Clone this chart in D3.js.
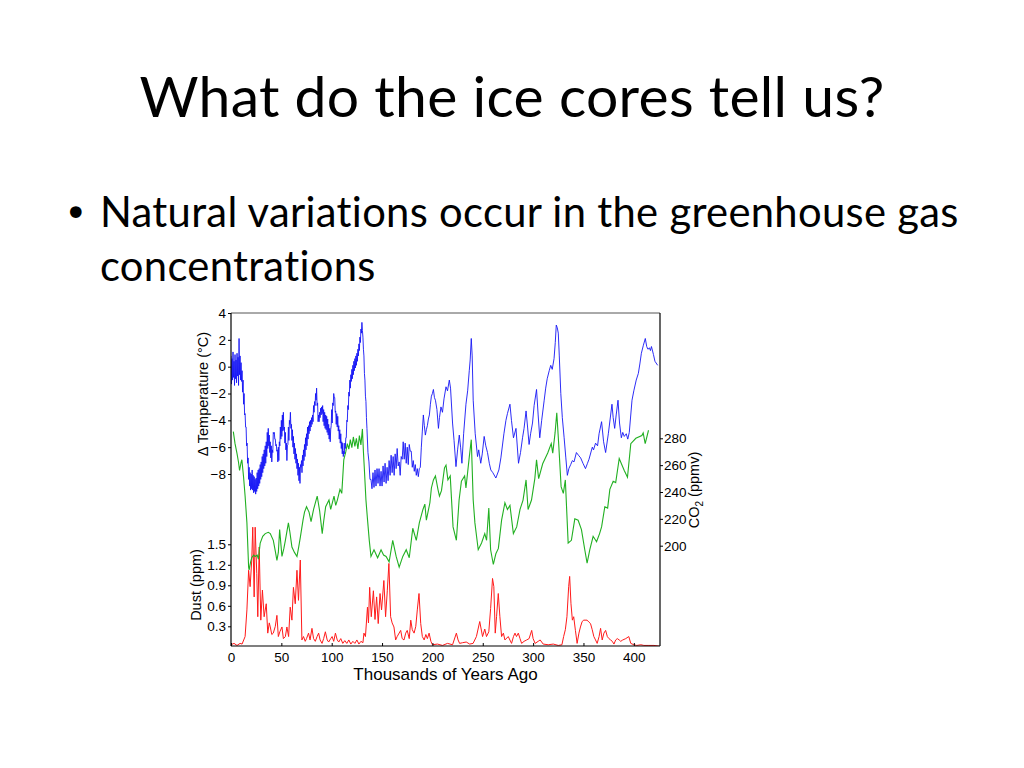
<!DOCTYPE html>
<html><head><meta charset="utf-8">
<script src="https://cdn.jsdelivr.net/npm/d3@7"></script>
<style>body{margin:0;background:#fff}svg{display:block}text{font-variant-ligatures:none;font-feature-settings:"liga" 0,"clig" 0}</style>
</head><body>
<svg id="c" width="1024" height="768"></svg>
<script>
// ---------- text ----------
const titleText = "What do the ice cores tell us?";
const bulletLines = ["Natural variations occur in the greenhouse gas", "concentrations"];
const xLabel = "Thousands of Years Ago";
const tempLabel = "\u0394 Temperature (\u00B0C)";
const dustLabel = "Dust (ppm)";

// ---------- ticks ----------
const xTicks = [0, 50, 100, 150, 200, 250, 300, 350, 400];
const tempTicks = [-8, -6, -4, -2, 0, 2, 4];
const co2Ticks = [200, 220, 240, 260, 280];
const dustTicks = [0.3, 0.6, 0.9, 1.2, 1.5];

// ---------- temperature (deg C) ----------
// high resolution part: ages start at 0 ka, every 0.5 ka
const tempAStart = 0, tempAStep = 0.5;
const tempA = [
  0.8,-1.3,0.6,-1.0,1.1,-0.8,0.4,-1.4,0.9,-0.9,
  0.5,-1.2,1.0,-0.7,0.7,-1.4,2.1,-0.6,0.8,-1.0,
  0.3,-1.1,-0.3,-1.9,-1.0,-2.8,-2.0,-3.6,-3.5,-4.5,
  -4.5,-5.9,-5.7,-7.2,-6.8,-8.4,-7.5,-8.9,-7.9,-9.2,
  -8.0,-9.1,-7.7,-9.2,-8.1,-9.4,-8.2,-9.3,-8.4,-9.5,
  -8.3,-9.3,-7.9,-9.1,-7.7,-8.9,-7.6,-8.7,-7.3,-8.4,
  -7.1,-8.2,-6.7,-7.9,-6.5,-7.6,-6.2,-7.4,-5.9,-7.2,
  -5.6,-6.7,-4.9,-6.1,-4.6,-5.9,-5.1,-6.4,-5.6,-6.8,
  -5.9,-7.1,-6.2,-6.4,-4.9,-5.0,-4.9,-5.4,-5.4,-5.9,
  -5.8,-6.3,-6.2,-7.1,-6.0,-7.0,-5.6,-5.9,-4.5,-5.4,
  -4.0,-5.2,-3.6,-4.8,-3.4,-4.7,-4.5,-5.7,-4.9,-6.2,
  -5.7,-7.0,-5.9,-5.8,-4.5,-5.5,-4.0,-4.3,-3.4,-4.6,
  -4.3,-5.5,-4.7,-6.0,-5.2,-6.5,-5.7,-6.9,-6.1,-7.2,
  -6.5,-7.6,-6.9,-8.1,-7.2,-8.5,-7.5,-8.7,-7.3,-7.5,
  -7.0,-7.9,-6.6,-7.4,-6.2,-7.0,-5.8,-6.7,-5.3,-6.2,
  -5.0,-5.9,-4.5,-5.4,-4.4,-5.0,-4.1,-4.8,-4.0,-4.5,
  -3.8,-4.3,-3.6,-4.1,-2.9,-3.4,-2.6,-2.9,-2.0,-2.5,
  -1.6,-2.9,-2.7,-4.1,-3.6,-4.1,-3.4,-3.8,-3.1,-3.6,
  -3.0,-3.5,-2.9,-4.1,-3.2,-4.4,-3.4,-4.6,-3.6,-4.7,
  -3.7,-4.9,-3.9,-5.1,-4.3,-5.4,-4.6,-5.6,-4.7,-4.4,
  -3.2,-4.2,-2.7,-2.9,-2.0,-2.3,-2.3,-3.4,-3.3,-4.3,
  -3.5,-4.5,-3.7,-4.8,-4.4,-5.4,-4.7,-5.7,-5.0,-6.1,
  -5.6,-6.5,-5.7,-6.7,-6.3,-6.5,-5.7,-6.1,-5.3,-5.3,
  -4.0,-4.1,-2.9,-3.2,-1.9,-2.2,-1.0,-1.6,-0.6,-1.1,
  -0.2,-0.9,0.1,-0.6,0.4,-0.3,0.6,-0.1,0.8,0.1,
  1.0,0.4,1.3,0.8,1.7,1.2,2.2,1.8,2.8,2.5,
  3.3,2.7,2.2,1.3,0.8,-0.5,-1.0,-2.2,-2.6,-3.8
];
// medium resolution part: ages start at 135 ka, every 1 ka
const tempBStart = 135, tempBStep = 1;
const tempB = [
  -4.6,-6.4,-7.1,-8.4,-8.4,
  -9.1,-7.9,-9.0,-7.7,-8.9,-7.6,-8.7,-7.6,-8.9,-7.8,
  -8.9,-7.4,-8.6,-7.2,-8.7,-7.5,-8.5,-7.0,-8.1,-6.6,
  -7.9,-6.7,-8.1,-6.5,-7.6,-6.1,-7.4,-7.1,-8.1,-6.7,
  -6.9,-5.6,-6.9,-5.7,-7.2,-6.0,-7.3,-5.8,-6.3,-6.3,
  -7.5,-7.0,-7.8,-7.3,-8.1,-7.6,-8.2,-7.6,-7.5,-6.0,
  -4.8,-3.6,-4.4,-5.1,-4.7,-4.4,-3.9,-3.6,-2.8,-2.2
];
// lower resolution part: [age ka, deg C]
const tempC = [
  [200,-2.0],[201,-1.7],[202,-2.3],[203,-2.5],[204.5,-3.2],[206,-4.6],[207,-3.8],[208.5,-3.0],
  [210,-3.4],[211.5,-2.4],[213.5,-1.5],[215,-1.8],[216.8,-1.0],[218,-1.6],[220,-4.2],[221.5,-5.5],
  [223.4,-7.45],[225,-6.2],[226.7,-5.1],[228,-6.0],[229.3,-7.2],[231,-5.0],[233.3,-2.8],[235,-1.8],
  [236.6,-0.3],[237.5,0.5],[238.6,2.1],[239.5,0.8],[240.5,-2.5],[242.5,-5.0],[244.8,-6.7],[246,-6.2],
  [248,-7.2],[249.5,-6.5],[251.4,-5.2],[253,-5.9],[254.7,-6.4],[256.5,-7.2],[258,-7.7],[260,-7.9],
  [263,-8.3],[264.5,-8.0],[266,-7.7],[268,-6.8],[271,-5.0],[273,-4.0],[274.5,-3.5],[277,-2.8],
  [278.5,-4.0],[280.5,-5.3],[283,-4.6],[285.5,-7.2],[287.5,-6.4],[289.5,-5.3],[291,-4.6],[293,-3.3],
  [294.5,-4.5],[296,-5.8],[297.5,-5.0],[299.4,-4.2],[301,-2.9],[303.4,-1.7],[305,-3.6],[306.6,-5.3],
  [308.5,-4.0],[311,-2.5],[312.5,-1.6],[314,-0.9],[316,-0.3],[317.5,0.1],[319,-0.2],[320.8,0.6],
  [322,1.8],[323,3.1],[324,2.9],[325,2.5],[326,0.8],[327.5,-2.0],[329,-3.8],[330.8,-5.3],
  [332.5,-6.8],[334,-8.1],[335.5,-7.6],[337.3,-7.3],[339,-7.0],[340.6,-7.1],[343,-6.4],[345,-6.6],
  [347.2,-6.8],[349.5,-7.2],[352,-7.6],[354,-7.2],[355.5,-6.9],[358.8,-6.0],[360,-6.2],[362,-5.7],
  [364,-5.9],[365.5,-5.0],[368,-4.1],[370,-5.6],[372,-6.4],[374.7,-5.0],[378.3,-2.8],[379.5,-3.8],
  [381,-4.6],[382.5,-3.6],[384.3,-2.5],[385.8,-4.2],[387.6,-5.3],[389,-4.9],[390.5,-5.2],[392.5,-5.0],
  [394,-5.4],[395.5,-4.9],[398.2,-2.5],[400,-1.8],[402.4,-1.0],[404.5,-0.5],[406,0.2],[407.5,1.0],
  [409.5,1.6],[411.4,2.1],[412.8,1.5],[414,1.3],[415.5,1.4],[416.5,1.2],[417.5,1.5],[419.5,0.9],
  [421,0.4],[423.7,0.1]
];

// ---------- CO2 (ppmv): [age ka, ppmv] ----------
const co2 = [
  [2.3,285],[4,276],[5.9,269],[7.5,262],[8.5,256],[10,262],[10.8,264],[12.5,251],[14,237],
  [15.8,217],[17.5,184],[18,182],[19.5,188],[20.6,191],[22.5,193],[24,192],[26,193],[27.2,190],
  [29,202],[31.5,207],[34,209],[37,210],[39,209],[42,204],[44,196],[45.6,189],[47,195],[48.3,212],
  [50.6,192],[52.5,198],[54,204],[57,217],[58.5,210],[60.5,199],[63,195],[65.5,192],[67,198],
  [69,207],[71.5,219],[73,225],[75,229],[77.5,225],[79.5,218],[82,227],[85.6,237],[88,226],
  [90.6,209],[92,218],[94,229],[97.3,234],[99,227],[102.3,237],[104,230],[105.6,234],[108.2,242],
  [110,239],[112,264],[114,270],[115.5,276],[117,272],[118.5,279],[120,273],[121.5,281],[123,274],
  [124.5,280],[126,272],[127.5,282],[129,275],[130.5,287],[131.5,270],[132.3,259],[134,234],
  [135.5,220],[137.3,204],[139,192],[142,197],[145.6,191],[149,197],[151.5,193],[154,192],[157,188],
  [160.6,204],[164,192],[167,184],[170.6,192],[174,197],[177,191],[180.5,213],[184,204],[187,217],
  [190.6,227],[192.5,231],[194,219],[197.5,232],[199,243],[201,249],[203,252],[205.5,242],[207,237],
  [209,241],[212,258],[213.5,260],[215.4,249],[217.7,252],[220.5,214],[223.8,204],[226.5,234],
  [228.8,248],[232,252],[233.3,243],[236.6,266],[238.6,279],[240.5,234],[242.2,217],[245.5,197],
  [248.8,202],[252,209],[253.8,204],[256,228],[257.8,197],[260.5,186],[263,194],[265.5,198],
  [268.7,219],[272,232],[274.5,227],[277,230],[280.4,209],[283.7,214],[287,227],[290,234],[293,249],
  [295,227],[298.4,234],[301.7,250],[303.4,264],[305.5,250],[309.5,261],[314.5,269],[318,276],
  [319.5,269],[321.8,284],[323.5,299],[325.4,276],[327.8,244],[330,239],[332,249],[334.8,202],
  [338,204],[341.4,220],[344.7,219],[348,212],[351.3,197],[353.6,187],[356.3,197],[359.6,207],
  [363,203],[366,209],[368,214],[371.2,229],[374,228],[376.2,242],[379.5,248],[382,247],[385.5,265],
  [390.5,256],[393.7,251],[397,276],[402,280],[408,282],[409.3,284],[411.3,276],[414.6,286]
];

// ---------- Dust (ppm): [age ka, ppm] ----------
const dust = [
  [0,0.03],[3,0.05],[6,0.02],[9,0.05],[11,0.04],[14,0.15],[15.8,0.54],[17.5,1.12],[19,0.88],
  [20.6,1.27],[21.6,1.75],[23,0.73],[24,1.75],[25.6,1.07],[26.6,0.44],[28,1.46],[29.6,0.39],
  [31.2,0.83],[32.9,0.44],[35,0.63],[36.5,0.2],[38,0.35],[39,0.29],[40.5,0.18],[42,0.2],[44,0.3],
  [45.6,0.46],[47,0.15],[48.5,0.22],[50.6,0.29],[52,0.12],[54,0.15],[55.5,0.29],[57.2,0.15],
  [58.8,0.58],[60.5,0.39],[62,0.87],[63.8,0.63],[65.5,1.12],[67,0.68],[68.8,1.27],[70.4,0.1],
  [72,0.15],[73.7,0.08],[75,0.12],[77,0.2],[78.5,0.1],[80.4,0.27],[82,0.12],[83.7,0.08],[85.5,0.15],
  [87,0.2],[88.5,0.1],[90.4,0.05],[92,0.12],[93.7,0.22],[95.5,0.1],[97,0.07],[99,0.12],[100.4,0.15],
  [102,0.08],[103.7,0.2],[105.5,0.1],[107,0.07],[109,0.12],[111,0.05],[113,0.09],[115,0.05],
  [117,0.1],[119,0.04],[121,0.08],[123,0.05],[125,0.1],[127,0.04],[129,0.08],[131,0.06],[132,0.2],
  [133.5,0.15],[135.5,0.58],[136.5,0.35],[137.7,0.87],[139.3,0.44],[141.4,0.82],[143,0.4],
  [144.6,0.73],[146.2,0.34],[148,0.78],[149.5,0.54],[151.8,0.97],[153.5,0.44],[155.2,0.82],
  [156.8,1.22],[158.5,0.44],[160,0.35],[161.8,0.29],[163.5,0.1],[165,0.15],[168.5,0.24],[170,0.12],
  [171.8,0.1],[173.5,0.2],[175,0.24],[177,0.12],[178.5,0.39],[180,0.25],[181.8,0.2],[183.5,0.3],
  [185,0.54],[186.7,0.78],[188.4,0.34],[190,0.15],[191.8,0.1],[193.5,0.18],[195,0.12],[196.7,0.2],
  [198.5,0.08],[200,0.03],[205,0.04],[210,0.02],[215,0.05],[220,0.03],[223.8,0.2],[225.5,0.1],
  [227,0.05],[230,0.06],[233.6,0.07],[237,0.04],[240.4,0.05],[243.7,0.15],[247,0.37],[249.8,0.15],
  [252,0.26],[253.7,0.15],[256,0.22],[257.8,0.56],[259.7,1.0],[261,0.88],[262.4,0.2],[263.7,0.44],
  [265.4,0.78],[267,0.44],[268.7,0.15],[270.5,0.2],[272,0.1],[275.3,0.15],[278.6,0.05],[280.5,0.15],
  [282,0.2],[283.5,0.15],[285.3,0.2],[287,0.12],[288.6,0.05],[291,0.08],[293.6,0.1],[296,0.12],
  [298.6,0.24],[300,0.12],[302,0.05],[305,0.08],[307,0.1],[310,0.04],[315,0.03],[320,0.04],
  [325,0.02],[328.6,0.03],[330.3,0.15],[332,0.25],[333.6,0.44],[335.3,0.88],[336.3,1.03],
  [337.6,0.63],[339,0.39],[340.3,0.44],[342,0.24],[343.7,0.05],[345.5,0.2],[347,0.29],[348.7,0.37],
  [350.3,0.39],[353.6,0.39],[355.5,0.36],[357,0.34],[358.7,0.25],[360.3,0.15],[362,0.1],
  [363.6,0.05],[365.5,0.15],[367,0.27],[368.6,0.1],[370.3,0.2],[372,0.24],[373.7,0.15],[375.3,0.12],
  [377,0.1],[378.6,0.08],[380.3,0.04],[382,0.1],[383.6,0.12],[385.5,0.1],[387,0.08],[389,0.1],
  [392,0.12],[395,0.15],[397,0.05],[400,0.03],[403,0.02],[407,0.03],[410,0.02],[415,0.02],
  [420,0.02],[425,0.01]
];

// ---------- drawing ----------
const svg = d3.select("#c");
const L = 231, R = 660, T = 313, B = 646;
const chartFont = "'Liberation Sans', Arial, Helvetica, sans-serif";
const slideFont = "Lato, 'Open Sans', sans-serif";

function fitText(sel, target) {
  const fs = parseFloat(sel.attr("font-size"));
  const w = sel.node().getComputedTextLength();
  sel.attr("font-size", fs * target / w);
}

const title = svg.append("text").attr("x", 512).attr("y", 117)
  .attr("text-anchor", "middle").attr("font-family", slideFont)
  .attr("letter-spacing", "0.3px")
  .attr("font-size", 60).attr("fill", "#000").text(titleText);
fitText(title, 745);

svg.append("text").attr("x", 64).attr("y", 227).attr("font-family", "'DejaVu Sans', sans-serif")
  .attr("font-size", 40).attr("fill", "#000").text("\u2022");
const b1 = svg.append("text").attr("x", 100).attr("y", 227).attr("font-family", slideFont)
  .attr("letter-spacing", "0.3px")
  .attr("font-size", 44).attr("fill", "#000").text(bulletLines[0]);
fitText(b1, 858);
svg.append("text").attr("x", 100).attr("y", 281).attr("font-family", slideFont)
  .attr("letter-spacing", "0.3px")
  .attr("font-size", b1.attr("font-size")).attr("fill", "#000").text(bulletLines[1]);

const x = d3.scaleLinear().domain([0, 426]).range([L, R]);
const yT = d3.scaleLinear().domain([-8, 4]).range([474, T]);
const yC = d3.scaleLinear().domain([200, 280]).range([545.7, 438.3]);
const yD = d3.scaleLinear().domain([0, 1.5]).range([646.8, 544.3]);

svg.append("defs").append("clipPath").attr("id", "plot")
  .append("rect").attr("x", L).attr("y", T).attr("width", R - L).attr("height", B - T);

const g = svg.append("g").attr("clip-path", "url(#plot)");

const tempPts = tempA.map((v, i) => [tempAStart + i * tempAStep, v])
  .concat(tempB.map((v, i) => [tempBStart + i * tempBStep, v]))
  .concat(tempC);

g.append("path").datum(dust)
  .attr("d", d3.line().x(d => x(d[0])).y(d => yD(d[1])))
  .attr("fill", "none").attr("stroke", "#ff1a1a").attr("stroke-width", 1);
g.append("path").datum(co2)
  .attr("d", d3.line().x(d => x(d[0])).y(d => yC(d[1])))
  .attr("fill", "none").attr("stroke", "#22b022").attr("stroke-width", 1.1);
g.append("path").datum(tempPts)
  .attr("d", d3.line().x(d => x(d[0])).y(d => yT(d[1])))
  .attr("fill", "none").attr("stroke", "#1515f5").attr("stroke-width", 0.9);

// frame
svg.append("line").attr("x1", L).attr("x2", R).attr("y1", T).attr("y2", T)
  .attr("stroke", "#555").attr("stroke-width", 1);
svg.append("line").attr("x1", L).attr("x2", R).attr("y1", B).attr("y2", B)
  .attr("stroke", "#000").attr("stroke-width", 1.2);
svg.append("line").attr("x1", L).attr("x2", L).attr("y1", T).attr("y2", B)
  .attr("stroke", "#000").attr("stroke-width", 1.2);
svg.append("line").attr("x1", R).attr("x2", R).attr("y1", T).attr("y2", B)
  .attr("stroke", "#000").attr("stroke-width", 1.2);

function styleAxis(ax) {
  ax.select(".domain").remove();
  ax.selectAll("text").attr("font-family", chartFont).attr("font-size", 13.5).attr("fill", "#000");
  ax.selectAll("line").attr("stroke", "#000");
}

const axT = svg.append("g").attr("transform", `translate(${L},0)`)
  .call(d3.axisLeft(yT).tickValues(tempTicks).tickSize(3).tickPadding(2).tickFormat(d3.format("d")));
styleAxis(axT);
const axD = svg.append("g").attr("transform", `translate(${L},0)`)
  .call(d3.axisLeft(yD).tickValues(dustTicks).tickSize(3).tickPadding(2).tickFormat(d3.format(".1f")));
styleAxis(axD);
const axC = svg.append("g").attr("transform", `translate(${R},0)`)
  .call(d3.axisRight(yC).tickValues(co2Ticks).tickSize(3).tickPadding(1).tickFormat(d3.format("d")));
styleAxis(axC);
const axX = svg.append("g").attr("transform", `translate(0,${B})`)
  .call(d3.axisBottom(x).tickValues(xTicks).tickSizeInner(-3).tickSizeOuter(0).tickPadding(6).tickFormat(d3.format("d")));
styleAxis(axX);

// axis titles
svg.append("text").attr("transform", "translate(208,394) rotate(-90)")
  .attr("text-anchor", "middle").attr("font-family", chartFont).attr("font-size", 14.5)
  .attr("fill", "#000").text(tempLabel);
svg.append("text").attr("transform", "translate(201,585) rotate(-90)")
  .attr("text-anchor", "middle").attr("font-family", chartFont).attr("font-size", 14.5)
  .attr("fill", "#000").text(dustLabel);
const co2T = svg.append("text").attr("transform", "translate(699,490) rotate(-90)")
  .attr("text-anchor", "middle").attr("font-family", chartFont).attr("font-size", 14.5)
  .attr("fill", "#000");
co2T.append("tspan").text("CO");
co2T.append("tspan").attr("font-size", 10).attr("dy", 4).text("2");
co2T.append("tspan").attr("dy", -4).text(" (ppmv)");
svg.append("text").attr("x", (L + R) / 2).attr("y", 680)
  .attr("text-anchor", "middle").attr("font-family", chartFont).attr("font-size", 17)
  .attr("fill", "#000").text(xLabel);
</script>
</body></html>
